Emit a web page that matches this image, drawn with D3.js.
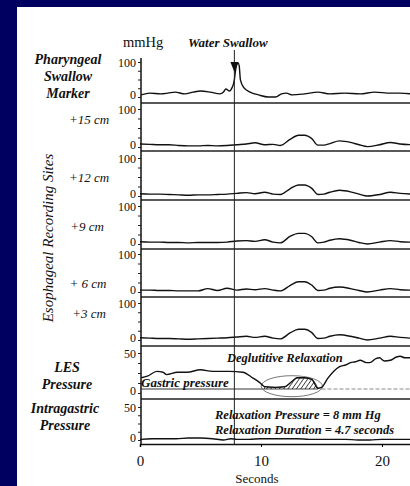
<!DOCTYPE html>
<html>
<head>
<meta charset="utf-8">
<script src="https://cdn.jsdelivr.net/npm/d3@7"></script>
<style>
body { margin: 0; background: #000060; }
svg { display: block; }
text { font-family: "Liberation Serif", "Times New Roman", serif; fill: #111; }
</style>
</head>
<body>
<svg id="chart" width="410" height="486"></svg>
<script>
var seconds = [0, 10, 20];
var swallowTime = 7.8;
var gastricPressure = 5;
var relaxStart = 10.3, relaxEnd = 14.7;

var pharTime   = [0.1, 0.8, 1.7, 2.3, 2.9, 3.7, 4.4, 5.0, 5.8, 6.6, 6.9, 7.1, 7.4, 7.6, 7.8, 7.9, 8.1, 8.2, 8.3, 8.6, 9.1, 9.8, 10.6, 11.2, 11.7, 12.1, 12.6, 13.6, 14.7, 15.7, 16.9, 18.2, 19.4, 20.7, 21.5, 22.4];
var pharValues = [6, 11, 9, 11, 14, 9, 14, 17, 14, 9, 14, 23, 17, 26, 49, 77, 97, 89, 49, 26, 14, 6, 0, 0, 9, 11, 6, 9, 14, 9, 11, 9, 14, 11, 11, 9];

var esoTime = [0, 0.8, 1.6, 2.4, 3.2, 4, 4.8, 5.6, 6.4, 7.2, 8, 8.8, 9.5, 10.3, 11, 11.6, 12.4, 13.1, 13.6, 14.2, 14.7, 15.2, 15.7, 16.5, 17.4, 18.1, 18.8, 19.8, 20.7, 21.5, 22.4];
var eso15 = [8, 7, 6, 6, 4, 3, 3, 4, 3, 4, 6, 8, 11, 6, 7, 4, 20, 31, 31, 22, 5, 5, 9, 16, 12, 6, 1, 6, 12, 8, 6];
var eso12 = [6, 5, 5, 4, 3, 2, 3, 3, 4, 5, 7, 9, 6, 10, 5, 4, 19, 29, 29, 20, 4, 5, 10, 15, 11, 5, 0, 4, 10, 7, 5];
var eso9  = [6, 5, 5, 4, 4, 3, 4, 4, 4, 5, 8, 9, 7, 11, 5, 3, 20, 28, 28, 19, 3, 5, 10, 14, 10, 4, 0, 5, 9, 6, 5];
var eso6  = [5, 5, 4, 4, 3, 3, 3, 9, 4, 10, 5, 8, 6, 9, 5, 3, 17, 27, 27, 18, 4, 5, 10, 13, 9, 4, 0, 5, 9, 6, 5];
var eso3  = [6, 5, 4, 4, 3, 2, 3, 4, 5, 6, 8, 10, 7, 10, 5, 3, 19, 29, 29, 20, 4, 5, 10, 14, 10, 5, 0, 5, 10, 7, 5];

var lesTime   = [0.1, 0.6, 1.4, 1.9, 2.2, 3.1, 3.9, 5.0, 6.0, 7.4, 8.5, 9.3, 9.9, 10.3, 11.2, 12.0, 12.6, 13.0, 13.6, 14.2, 14.7, 15.0, 15.5, 16.0, 16.5, 17.0, 17.4, 17.8, 18.2, 18.7, 19.0, 19.5, 19.8, 20.2, 20.7, 21.2, 21.5, 21.9, 22.4];
var lesValues = [19, 21, 27, 26, 23, 26, 26, 29, 27, 27, 26, 19, 13, 8, 7, 8, 15, 19, 19, 17, 6, 7, 18, 27, 33, 35, 38, 39, 41, 38, 38, 43, 44, 40, 41, 45, 46, 44, 44];

var gastricTime   = [0, 1, 2, 3, 4, 5, 6, 6.9, 7.5, 8, 9, 10, 11, 12, 13, 14, 15, 16, 17, 18, 19, 20, 21, 22.4];
var gastricValues = [1, 2, 2, 2, 3, 3, 2, 0, 2, 1, 1, 2, 2, 2, 2, 1, 1, 1, 1, 0, 0, 1, 1, 1];

var panelLabels = [
  ['Pharyngeal', 'Swallow', 'Marker'],
  ['+15 cm'], ['+12 cm'], ['+9 cm'], ['+ 6 cm'], ['+3 cm'],
  ['LES', 'Pressure'],
  ['Intragastric', 'Pressure']
];
var panelMax = [100, 100, 100, 100, 100, 100, 50, 50];

// ---- layout ----
var W = 410, H = 486;
var axisX = 141;
var sepY  = [103, 151, 200, 249, 297, 346, 399, 444];
var topY  = [62, 109, 158, 206, 254, 303, 353, 407];
var zeroY = [97, 147, 196, 244, 292, 340, 393, 440];

var svg = d3.select('#chart');
svg.append('rect').attr('width', W).attr('height', H).attr('fill', '#000060');
svg.append('rect').attr('x', 17).attr('y', 7).attr('width', W - 17).attr('height', H - 7).attr('fill', '#fff');

var x = d3.scaleLinear().domain([0, 22.4]).range([140, 411]);

var traces = [
  {t: pharTime, v: pharValues},
  {t: esoTime, v: eso15},
  {t: esoTime, v: eso12},
  {t: esoTime, v: eso9},
  {t: esoTime, v: eso6},
  {t: esoTime, v: eso3},
  {t: lesTime, v: lesValues},
  {t: gastricTime, v: gastricValues}
];

var defs = svg.append('defs');
defs.append('pattern')
  .attr('id', 'hatch')
  .attr('patternUnits', 'userSpaceOnUse')
  .attr('width', 3.5).attr('height', 3.5)
  .attr('patternTransform', 'rotate(35)')
  .append('line')
  .attr('x1', 0).attr('y1', 0).attr('x2', 0).attr('y2', 3.5)
  .attr('stroke', '#111').attr('stroke-width', 1.4);

var scales = panelMax.map(function(m, i) {
  return d3.scaleLinear().domain([0, m]).range([zeroY[i], topY[i]]);
});

// separators
svg.append('g').selectAll('line').data(sepY.slice(0, 7)).enter().append('line')
  .attr('x1', axisX).attr('x2', W).attr('y1', function(d) { return d; }).attr('y2', function(d) { return d; })
  .attr('stroke', '#222').attr('stroke-width', 1.4);

// y axes
scales.forEach(function(y, i) {
  var m = panelMax[i];
  svg.append('g')
    .attr('transform', 'translate(' + axisX + ',0)')
    .call(d3.axisLeft(y).tickValues([0, m / 4, m / 2, 3 * m / 4, m]).tickSize(3).tickPadding(2)
      .tickFormat(function(d) { return (d === 0 || d === m) ? d : ''; }))
    .call(function(g) {
      g.select('.domain').remove();
      g.selectAll('text')
        .style('font-family', '"Liberation Serif", serif').style('font-size', '12px').attr('fill', '#111')
        .attr('dy', function(d) { return d === 0 ? '0.1em' : '0.4em'; });
      g.selectAll('line').attr('stroke', '#222');
    });
});
svg.append('line').attr('x1', axisX).attr('x2', axisX).attr('y1', 58).attr('y2', 444)
  .attr('stroke', '#111').attr('stroke-width', 1.5);

// x axis
var xAxis = svg.append('g').attr('transform', 'translate(0,444)')
  .call(d3.axisBottom(x).tickValues(seconds).tickSize(3).tickPadding(8));
xAxis.select('.domain').attr('stroke', '#111').attr('stroke-width', 1.5);
xAxis.selectAll('text').style('font-family', '"Liberation Serif", serif').style('font-size', '15px').attr('fill', '#111');
svg.append('text').attr('x', 257).attr('y', 483).attr('text-anchor', 'middle')
  .style('font-size', '13px').text('Seconds');

// gastric reference line in LES panel
var yLes = scales[6];
svg.append('line').attr('x1', x(0)).attr('x2', x(relaxStart)).attr('y1', yLes(gastricPressure)).attr('y2', yLes(gastricPressure))
  .attr('stroke', '#333').attr('stroke-width', 1);
svg.append('line').attr('x1', x(relaxEnd + 0.3)).attr('x2', W).attr('y1', yLes(gastricPressure)).attr('y2', yLes(gastricPressure))
  .attr('stroke', '#888').attr('stroke-width', 1).attr('stroke-dasharray', '4,2');

// hatched relaxation area
var relaxIdx = lesTime.map(function(t, i) { return i; }).filter(function(i) {
  return lesTime[i] >= relaxStart && lesTime[i] <= relaxEnd;
});
svg.append('path')
  .datum(relaxIdx)
  .attr('d', d3.area()
    .x(function(i) { return x(lesTime[i]); })
    .y0(yLes(gastricPressure))
    .y1(function(i) { return yLes(lesValues[i]); })
    .curve(d3.curveMonotoneX))
  .attr('fill', 'url(#hatch)').attr('stroke', '#111').attr('stroke-width', 0.8);

// ellipse around relaxation
svg.append('ellipse')
  .attr('cx', x((relaxStart + relaxEnd) / 2 + 0.05)).attr('cy', yLes(8.5))
  .attr('rx', (x(relaxEnd) - x(relaxStart)) / 2 + 4).attr('ry', 10.5)
  .attr('fill', 'none').attr('stroke', '#666').attr('stroke-width', 0.9);

// traces
var line = d3.line().curve(d3.curveMonotoneX);
traces.forEach(function(tr, i) {
  var y = scales[i];
  svg.append('path')
    .attr('d', line(tr.t.map(function(t, k) { return [x(t), y(tr.v[k])]; })))
    .attr('fill', 'none').attr('stroke', '#111').attr('stroke-width', 1.4);
});

// swallow marker line + arrow
var sx = x(swallowTime);
svg.append('line').attr('x1', sx).attr('x2', sx).attr('y1', 50).attr('y2', 444)
  .attr('stroke', '#222').attr('stroke-width', 1);
svg.append('path').attr('d', 'M' + (sx - 4) + ',62 L' + (sx + 4) + ',62 L' + sx + ',72 Z').attr('fill', '#111');

// header texts
svg.append('text').attr('x', 123).attr('y', 47).style('font-size', '14.5px').text('mmHg');
svg.append('text').attr('x', 188).attr('y', 47).style('font-size', '13px').style('font-style', 'italic').style('font-weight', 'bold').text('Water Swallow');

// panel labels
var labelPos = [
  {x: 68, y: [64, 81, 98]},
  {x: 89, y: [124]}, {x: 89, y: [182]}, {x: 87, y: [231]}, {x: 88, y: [288]}, {x: 89, y: [318]},
  {x: 67, y: [372, 389]},
  {x: 65, y: [413, 430]}
];
panelLabels.forEach(function(lines, i) {
  var esophageal = i >= 1 && i <= 5;
  lines.forEach(function(s, k) {
    svg.append('text')
      .attr('x', labelPos[i].x).attr('y', labelPos[i].y[k])
      .attr('text-anchor', 'middle')
      .style('font-style', 'italic')
      .style('font-weight', esophageal ? 'normal' : 'bold')
      .style('font-size', esophageal ? '13px' : '14px')
      .text(s);
  });
});
svg.append('text')
  .attr('transform', 'translate(53,238) rotate(-90)')
  .attr('text-anchor', 'middle')
  .style('font-style', 'italic').style('font-size', '15px')
  .text('Esophageal Recording Sites');

// annotations
svg.append('text').attr('x', 227).attr('y', 362).style('font-size', '12.5px').style('font-style', 'italic').style('font-weight', 'bold').text('Deglutitive Relaxation');
svg.append('text').attr('x', 141).attr('y', 387).style('font-size', '13px').style('font-style', 'italic').style('font-weight', 'bold').text('Gastric pressure');
svg.append('text').attr('x', 215).attr('y', 419).style('font-size', '12.5px').style('font-style', 'italic').style('font-weight', 'bold').text('Relaxation Pressure = 8 mm Hg');
svg.append('text').attr('x', 215).attr('y', 434).style('font-size', '12.5px').style('font-style', 'italic').style('font-weight', 'bold').text('Relaxation Duration = 4.7 seconds');
</script>
</body>
</html>
